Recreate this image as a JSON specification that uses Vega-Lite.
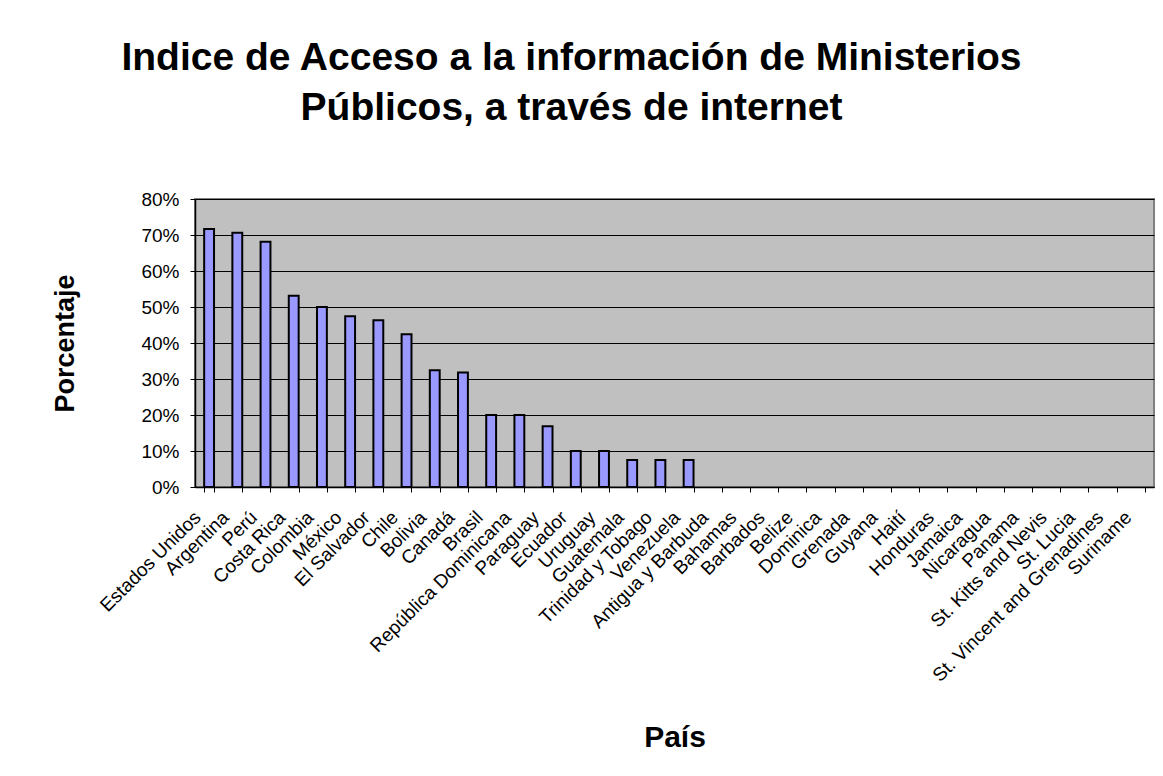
{
  "$schema": "https://vega.github.io/schema/vega-lite/v6.json",
  "width": 959,
  "height": 288,
  "autosize": {"type": "none"},
  "padding": {"left": 195, "top": 199, "right": 9, "bottom": 289},
  "background": "white",
  "title": {
    "text": ["Indice de Acceso a la información de Ministerios", "Públicos, a través de internet"],
    "font": "Liberation Sans",
    "fontSize": 39,
    "fontWeight": "bold",
    "color": "black",
    "anchor": "middle",
    "frame": "group",
    "dx": -103,
    "offset": 62,
    "lineHeight": 50
  },
  "data": {
    "values": [
      {"pais": "Estados Unidos", "v": 0.717},
      {"pais": "Argentina", "v": 0.706},
      {"pais": "Perú", "v": 0.681},
      {"pais": "Costa Rica", "v": 0.531},
      {"pais": "Colombia", "v": 0.5},
      {"pais": "México", "v": 0.474},
      {"pais": "El Salvador", "v": 0.463},
      {"pais": "Chile", "v": 0.424},
      {"pais": "Bolivia", "v": 0.324},
      {"pais": "Canadá", "v": 0.318},
      {"pais": "Brasil", "v": 0.2},
      {"pais": "República Dominicana", "v": 0.2},
      {"pais": "Paraguay", "v": 0.169},
      {"pais": "Ecuador", "v": 0.1},
      {"pais": "Uruguay", "v": 0.1},
      {"pais": "Guatemala", "v": 0.075},
      {"pais": "Trinidad y Tobago", "v": 0.075},
      {"pais": "Venezuela", "v": 0.075},
      {"pais": "Antigua y Barbuda", "v": 0},
      {"pais": "Bahamas", "v": 0},
      {"pais": "Barbados", "v": 0},
      {"pais": "Belize", "v": 0},
      {"pais": "Dominica", "v": 0},
      {"pais": "Grenada", "v": 0},
      {"pais": "Guyana", "v": 0},
      {"pais": "Haití", "v": 0},
      {"pais": "Honduras", "v": 0},
      {"pais": "Jamaica", "v": 0},
      {"pais": "Nicaragua", "v": 0},
      {"pais": "Panama", "v": 0},
      {"pais": "St. Kitts and Nevis", "v": 0},
      {"pais": "St. Lucia", "v": 0},
      {"pais": "St. Vincent and Grenadines", "v": 0},
      {"pais": "Suriname", "v": 0}
    ]
  },
  "mark": {"type": "bar", "fill": "#9999FF", "stroke": "black", "strokeWidth": 2},
  "transform": [{"filter": "datum.v > 0"}],
  "encoding": {
    "x": {
      "field": "pais",
      "type": "nominal",
      "sort": null,
      "scale": {
        "domain": ["Estados Unidos", "Argentina", "Perú", "Costa Rica", "Colombia", "México", "El Salvador", "Chile", "Bolivia", "Canadá", "Brasil", "República Dominicana", "Paraguay", "Ecuador", "Uruguay", "Guatemala", "Trinidad y Tobago", "Venezuela", "Antigua y Barbuda", "Bahamas", "Barbados", "Belize", "Dominica", "Grenada", "Guyana", "Haití", "Honduras", "Jamaica", "Nicaragua", "Panama", "St. Kitts and Nevis", "St. Lucia", "St. Vincent and Grenadines", "Suriname"],
        "paddingInner": 0.65,
        "paddingOuter": 0.325
      },
      "axis": {
        "title": "País",
        "titleFont": "Liberation Sans",
        "titleFontSize": 30,
        "titleFontWeight": "bold",
        "titleColor": "black",
        "titleY": 259,
        "titleBaseline": "alphabetic",
        "labelAngle": -45,
        "labelAlign": "right",
        "labelBaseline": "middle",
        "labelFont": "Liberation Sans",
        "labelFontSize": 19,
        "labelColor": "black",
        "labelPadding": 22,
        "labelOffset": -12,
        "labelLimit": 0,
        "labelOverlap": false,
        "tickBand": "extent",
        "tickColor": "black",
        "tickSize": 5,
        "domainColor": "black",
        "domainWidth": 1.5,
        "grid": false
      }
    },
    "y": {
      "field": "v",
      "type": "quantitative",
      "scale": {"domain": [0, 0.8], "nice": false},
      "axis": {
        "title": "Porcentaje",
        "format": ".0%",
        "values": [0, 0.1, 0.2, 0.3, 0.4, 0.5, 0.6, 0.7, 0.8],
        "titleFont": "Liberation Sans",
        "titleFontSize": 27,
        "titleFontWeight": "bold",
        "titleColor": "black",
        "titleX": -130,
        "titleY": 144,
        "titleAlign": "center",
        "titleBaseline": "middle",
        "labelFont": "Liberation Sans",
        "labelFontSize": 19,
        "labelColor": "black",
        "labelPadding": 11,
        "tickColor": "black",
        "tickSize": 5,
        "domainColor": "black",
        "domainWidth": 1.5,
        "grid": true,
        "gridColor": "black",
        "gridWidth": 1
      }
    }
  },
  "config": {
    "view": {"fill": "#C0C0C0", "stroke": "#808080", "strokeWidth": 2}
  }
}
